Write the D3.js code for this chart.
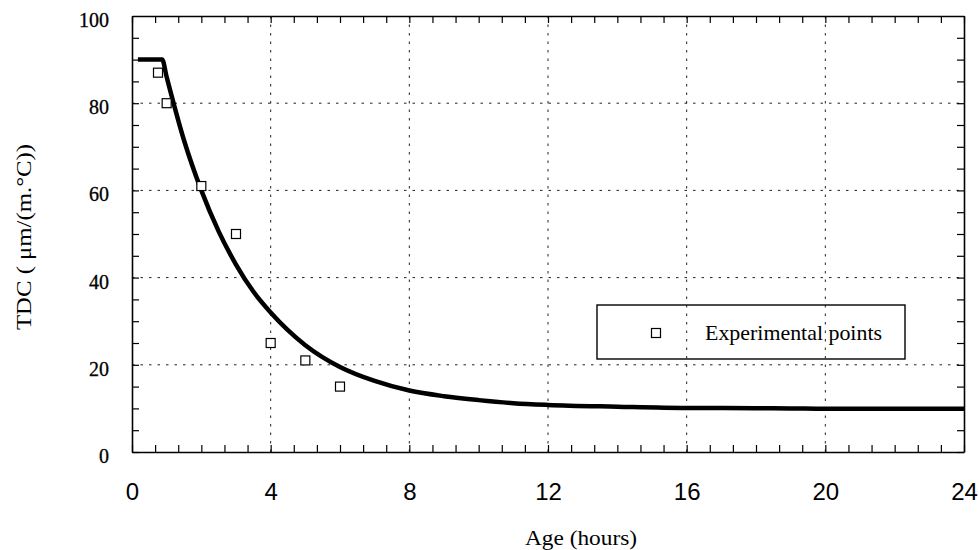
<!DOCTYPE html>
<html>
<head>
<meta charset="utf-8">
<script src="https://cdn.jsdelivr.net/npm/d3@7"></script>
<style>
  body { margin: 0; background: #fff; }
  svg { display: block; }
</style>
</head>
<body>
<div id="plot"></div>
<script>
// model curve (hours, TDC)
var curveHours = [0.17, 0.87, 1.0, 1.5, 2, 2.5, 3, 3.5, 4, 5, 6, 7, 8, 9, 10, 11, 12, 14, 16, 18, 19, 20, 22, 24];
var curveTdc   = [90, 90, 86, 71.5, 60, 50.6, 43, 36.8, 32, 24.5, 19.5, 16.3, 14.1, 12.8, 11.9, 11.2, 10.8, 10.4, 10.1, 10.05, 10, 9.9, 9.9, 9.9];

// experimental points
var expHours = [0.75, 1, 2, 3, 4, 5, 6];
var expTdc   = [87, 80, 61, 50, 25, 21, 15];

var xTicks = [0, 4, 8, 12, 16, 20, 24];
var yTicks = [0, 20, 40, 60, 80, 100];
var xMinorPerMajor = 6;
var yMinorPerMajor = 4;

const w = 979;
const h = 550;
const plotL = 132, plotR = 964, plotT = 16, plotB = 452;
const serif = "'Liberation Serif', 'Times New Roman', serif";

const xScale = d3.scaleLinear().domain([0, 24]).range([plotL, plotR]);
const yScale = d3.scaleLinear().domain([0, 100]).range([plotB, plotT]);

const svg = d3.select("#plot").append("svg")
  .attr("width", w)
  .attr("height", h);

const xMinor = d3.range(0, xTicks.length - 1).flatMap(i =>
  d3.range(0, xMinorPerMajor).map(j => xTicks[i] + (xTicks[i + 1] - xTicks[i]) * j / xMinorPerMajor));
xMinor.push(xTicks[xTicks.length - 1]);
const yMinor = d3.range(0, yTicks.length - 1).flatMap(i =>
  d3.range(0, yMinorPerMajor).map(j => yTicks[i] + (yTicks[i + 1] - yTicks[i]) * j / yMinorPerMajor));

// dotted grid
const gridX = xTicks.slice(1, -1);
const gridY = yTicks.slice(1, -1);
const grid = svg.append("g").attr("class", "grid");
grid.selectAll("line.gx").data(gridX).enter().append("line")
  .attr("class", "gx")
  .attr("x1", d => xScale(d)).attr("x2", d => xScale(d))
  .attr("y1", plotT).attr("y2", plotB);
grid.selectAll("line.gy").data(gridY).enter().append("line")
  .attr("class", "gy")
  .attr("y1", d => yScale(d)).attr("y2", d => yScale(d))
  .attr("x1", plotL).attr("x2", plotR);
grid.selectAll("line")
  .attr("stroke", "#222")
  .attr("stroke-width", 1)
  .attr("stroke-dasharray", "2.5,6");

// frame with inward minor ticks
function frameAxis(axis, transform) {
  const g = svg.append("g").attr("transform", transform).call(axis);
  g.selectAll("path").attr("stroke", "#000").attr("stroke-width", 1.6);
  g.selectAll("line").attr("stroke", "#000").attr("stroke-width", 1.2);
  return g;
}
frameAxis(d3.axisBottom(xScale).tickValues(xMinor).tickSizeInner(-7).tickSizeOuter(0).tickFormat(""),
  `translate(0,${plotB})`);
frameAxis(d3.axisTop(xScale).tickValues(xMinor).tickSizeInner(-7).tickSizeOuter(0).tickFormat(""),
  `translate(0,${plotT})`);
frameAxis(d3.axisLeft(yScale).tickValues(yMinor).tickSizeInner(-7).tickSizeOuter(0).tickFormat(""),
  `translate(${plotL},0)`);
frameAxis(d3.axisRight(yScale).tickValues(yMinor).tickSizeInner(-7).tickSizeOuter(0).tickFormat(""),
  `translate(${plotR},0)`);

// tick labels
const xLab = svg.append("g")
  .attr("transform", `translate(0,${plotB})`)
  .call(d3.axisBottom(xScale).tickValues(xTicks).tickSize(0).tickPadding(31).tickFormat(d => d));
xLab.select(".domain").remove();
xLab.selectAll("text")
  .attr("font-family", "'Liberation Sans', Arial, sans-serif")
  .attr("font-size", 24)
  .attr("fill", "#000");

const yLab = svg.append("g")
  .attr("transform", `translate(${plotL},0)`)
  .call(d3.axisLeft(yScale).tickValues(yTicks).tickSize(0).tickPadding(23).tickFormat(d => d));
yLab.select(".domain").remove();
yLab.selectAll("text")
  .attr("font-family", serif)
  .attr("font-size", 20)
  .attr("dy", "0.52em")
  .attr("fill", "#000")
  .attr("stroke", "#000")
  .attr("stroke-width", 0.3);

// axis titles
svg.append("text")
  .attr("x", 525).attr("y", 545)
  .attr("font-family", serif)
  .attr("font-size", 21)
  .attr("textLength", 112)
  .attr("lengthAdjust", "spacingAndGlyphs")
  .text("Age (hours)");

svg.append("text")
  .attr("transform", "translate(31,330) rotate(-90)")
  .attr("font-family", serif)
  .attr("font-size", 21)
  .attr("textLength", 186)
  .attr("lengthAdjust", "spacingAndGlyphs")
  .text("TDC ( \u03bcm/(m.\u00b0C))");

// model curve
const curveData = curveHours.map((t, i) => ({ t: t, v: curveTdc[i] }));
const line = d3.line()
  .x(d => xScale(d.t))
  .y(d => yScale(d.v))
  .curve(d3.curveMonotoneX);

svg.append("path")
  .datum(curveData)
  .attr("fill", "none")
  .attr("stroke", "#000")
  .attr("stroke-width", 4.5)
  .attr("stroke-linejoin", "round")
  .attr("d", line);

// experimental points
const expData = expHours.map((t, i) => ({ t: t, v: expTdc[i] }));
const sq = 9;
svg.selectAll(".exp")
  .data(expData)
  .enter()
  .append("rect")
  .attr("class", "exp")
  .attr("x", d => xScale(d.t) - sq / 2)
  .attr("y", d => yScale(d.v) - sq / 2)
  .attr("width", sq)
  .attr("height", sq)
  .attr("fill", "#fff")
  .attr("stroke", "#000")
  .attr("stroke-width", 1.2);

// legend
const lg = svg.append("g");
lg.append("rect")
  .attr("x", 597).attr("y", 305)
  .attr("width", 308).attr("height", 54)
  .attr("fill", "none")
  .attr("stroke", "#000")
  .attr("stroke-width", 1.4);
lg.append("rect")
  .attr("x", 656 - sq / 2).attr("y", 333 - sq / 2)
  .attr("width", sq).attr("height", sq)
  .attr("fill", "#fff")
  .attr("stroke", "#000")
  .attr("stroke-width", 1.2);
lg.append("text")
  .attr("x", 705).attr("y", 340)
  .attr("font-family", serif)
  .attr("font-size", 21)
  .attr("textLength", 177)
  .attr("lengthAdjust", "spacingAndGlyphs")
  .text("Experimental points");
</script>
</body>
</html>
